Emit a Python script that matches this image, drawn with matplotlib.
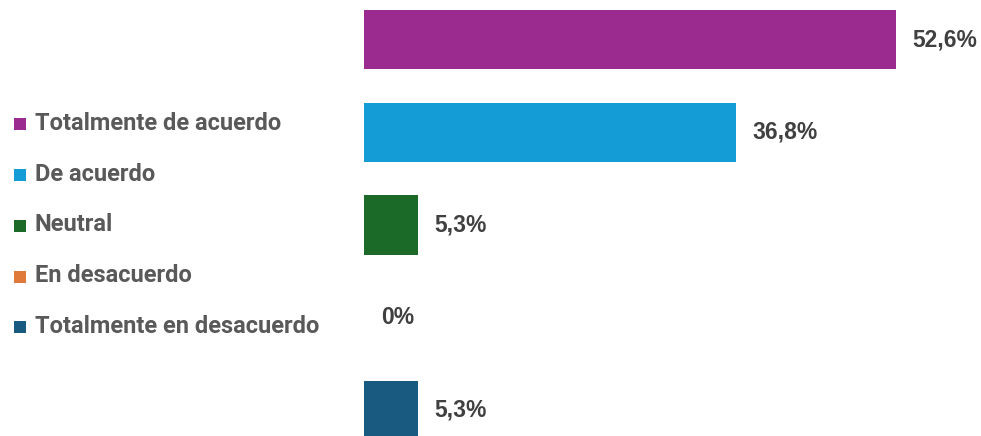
import matplotlib.pyplot as plt
from matplotlib.patches import Rectangle

categorias = ['Totalmente de acuerdo', 'De acuerdo', 'Neutral',
              'En desacuerdo', 'Totalmente en desacuerdo']
porcentajes = [52.6, 36.8, 5.3, 0.0, 5.3]
colores = ['#9c2b90', '#139cd5', '#1c6a27', '#e07a3a', '#185a80']

W, H = 981, 436
fig = plt.figure(figsize=(W / 100, H / 100), dpi=100)

# eje de barras, escala ~10.1 px por punto porcentual
PX_POR_PCT = 10.11
x0 = 364
ancho_px = 60 * PX_POR_PCT
ax = fig.add_axes([x0 / W, 0, ancho_px / W, 1])
paso = 92.7
centro0 = 39.5
ax.set_xlim(0, 60)
ax.set_ylim((H - centro0) / paso, -centro0 / paso)

pos = list(range(len(categorias)))
ax.barh(pos, porcentajes, height=0.64, color=colores)

for i, v in enumerate(porcentajes):
    if v == 0:
        txt = '0%'
    else:
        txt = f'{v:.1f}'.replace('.', ',') + '%'
    ax.annotate(txt, (v, i), xytext=(12, 0), textcoords='offset points',
                va='center', ha='left', fontsize=16.5, fontweight='bold',
                color='#404040', family=['Liberation Sans', 'DejaVu Sans'])

ax.axis('off')

# leyenda a la izquierda
base0 = 130
paso_ley = 50.7
for i, (cat, col) in enumerate(zip(categorias, colores)):
    base = base0 + i * paso_ley
    fig.add_artist(Rectangle((14 / W, (H - base - 0.5) / H), 12 / W, 12 / H,
                             transform=fig.transFigure, color=col, lw=0))
    fig.text(35 / W, (H - base) / H, cat, va='baseline', ha='left',
             fontsize=17, fontweight='bold', color='#595959',
             family=['Liberation Sans Narrow', 'Roboto', 'DejaVu Sans'])

fig.savefig('out.png', dpi=100, facecolor='white')
